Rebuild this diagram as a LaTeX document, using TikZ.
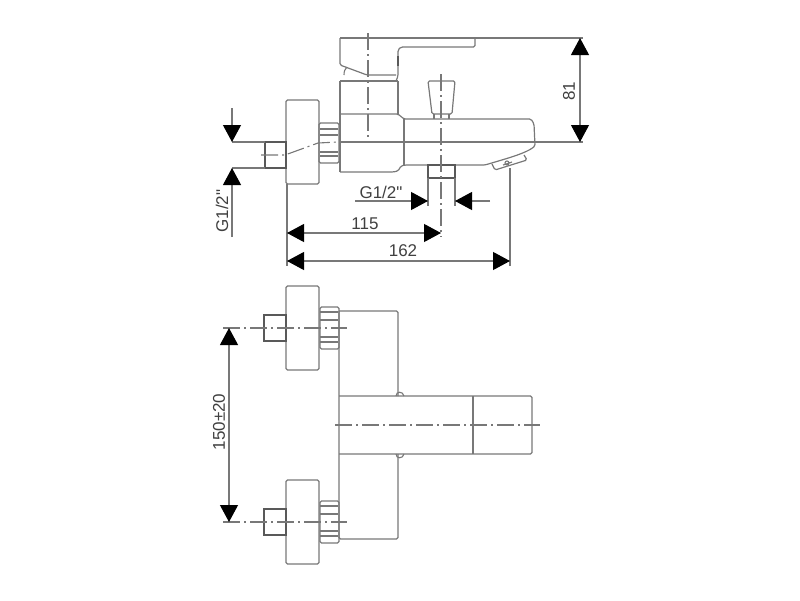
\documentclass[tikz,border=0pt]{standalone}
\usepackage{fontspec}
\newfontfamily\dimfont{Liberation Sans}
\usetikzlibrary{arrows.meta}
\definecolor{linegray}{HTML}{787878}
\definecolor{textgray}{HTML}{404040}
\tikzset{
  part/.style={draw=linegray,line width=1.2pt,rounded corners=1.5pt},
  heavy/.style={draw=black!65,line width=1.3pt},
  axisline/.style={draw=linegray,line width=1.1pt,dash pattern=on 17pt off 4pt on 2pt off 4pt},
  extline/.style={draw=linegray,line width=1.1pt},
  dimline/.style={draw=linegray,line width=1.1pt,{Triangle[black,length=17pt,width=18pt]}-{Triangle[black,length=17pt,width=18pt]}},
  dimend/.style={draw=linegray,line width=1.1pt,-{Triangle[black,length=17pt,width=18pt]}},
  dimtext/.style={text=textgray,font=\dimfont\fontsize{17}{17}\selectfont,inner sep=0pt},
}
\begin{document}
\begin{tikzpicture}[x=1pt,y=-1pt]
\useasboundingbox (0,0) rectangle (800,600);

% side view
\draw[part] (319,100) -- (286,100) -- (286,184) -- (319,184) -- cycle;
\draw[part] (319,123) rectangle (339,163);
\foreach \ny in {129,135,152,156}
  \draw[extline] (320,\ny) -- (338,\ny);
\draw[heavy] (265,142) rectangle (286,168);
\draw[part] (340,38) -- (340,65) -- (367,75) -- (396,75);
\draw[part] (396,81) -- (398,76) -- (398,50) -- (401,47) -- (475,47) -- (475,38);
\draw[heavy] (398,56) -- (398,66);
\draw[extline] (344,75) .. controls (344,71) and (345,69) .. (347,67);
\draw[part] (340,81) -- (398,81);
\draw[part] (340,172) -- (340,81);
\draw[part] (340,172) -- (393,172) -- (398,171) -- (401,166) -- (405,165) -- (485,165)
  .. controls (505,159) and (520,155) .. (531,149) -- (535,146) -- (534,124) -- (531,119) -- (404,119)
  -- (398,114) -- (340,114);
\draw[part] (398,81) -- (398,114);
\draw[part] (404,119) -- (404,165);
\draw[part] (428,81) -- (455,81) -- (452,114) -- (432,114) -- cycle;
\draw[part] (434,114) -- (434,119) (449,114) -- (449,119);
\draw[heavy] (428,165) rectangle (455,178);
\draw[part] (492,164) -- (495,170) -- (527,160) -- (524,155);
\draw[extline] (503,165) -- (512,162) (507,163) circle (2);
\draw[axisline] (368,33) -- (368,142);
\draw[axisline] (441,74) -- (441,237);
\draw[axisline] (261,155) -- (285,155) -- (318,143) -- (338,142);

\coordinate (topref) at (583,38);
\coordinate (lowref) at (583,142);
\coordinate (dimtop) at (580,38);
\coordinate (dimlow) at (580,142);
\draw[extline] (340,38) -- (topref);
\draw[extline] (340,142) -- (lowref);
\draw[dimline] (dimtop) -- (dimlow);
\node[dimtext,rotate=90] (label81) at (569,91) {81};

\coordinate (pipetop) at (232,142);
\coordinate (pipelow) at (232,168);
\coordinate (pipehead) at (232,108);
\coordinate (pipetail) at (232,237);
\draw[extline] (pipetop) -- (265,142);
\draw[extline] (pipelow) -- (265,168);
\draw[dimend] (pipehead) -- (pipetop);
\draw[dimend] (pipetail) -- (pipelow);
\node[dimtext,rotate=90] (labelpipe) at (222,211) {G1/2"};

\coordinate (outleft) at (428,201);
\coordinate (outright) at (455,201);
\coordinate (outtailleft) at (355,201);
\coordinate (outtailright) at (490,201);
\draw[extline] (428,178) -- (428,206) (455,178) -- (455,206);
\draw[dimend] (outtailleft) -- (outleft);
\draw[dimend] (outtailright) -- (outright);
\node[dimtext] (labeloutlet) at (381,192) {G1/2"};

\coordinate (plate115) at (287,233);
\coordinate (axis115) at (441,233);
\coordinate (plate162) at (287,261);
\coordinate (spout162) at (510,261);
\draw[extline] (287,184) -- (287,266);
\draw[extline] (510,168) -- (510,266);
\draw[dimline] (plate115) -- (axis115);
\draw[dimline] (plate162) -- (spout162);
\node[dimtext] (label115) at (365,224) {115};
\node[dimtext] (label162) at (403,251) {162};

% top view
\draw[part] (339,311) -- (398,311) -- (398,396);
\draw[part] (339,311) -- (339,539) -- (398,539) -- (398,454);
\draw[part] (339,396) -- (532,396) -- (532,454) -- (339,454);
\draw[part] (473,396) -- (473,454);
\draw[extline] (396,396) .. controls (396,391) and (403,391) .. (404,396);
\draw[extline] (396,454) .. controls (396,459) and (403,459) .. (404,454);
\draw[axisline] (335,425) -- (540,425);
\foreach \cy/\py in {328/286,522/480}{
  \draw[part] (286,\py) rectangle (319,\py+84);
  \draw[part] (320,\cy-21) rectangle (339,\cy+21);
  \foreach \ny in {-16,-8,9,14}
    \draw[extline] (320,\cy+\ny) -- (338,\cy+\ny);
  \draw[heavy] (264,\cy-13) rectangle (286,\cy+13);
  \draw[axisline] (223,\cy) -- (347,\cy);
}
\coordinate (inlet1) at (229,328);
\coordinate (inlet2) at (229,522);
\draw[dimline] (inlet1) -- (inlet2);
\node[dimtext,rotate=90] (labelspan) at (219,422) {150±20};
\end{tikzpicture}
\end{document}
